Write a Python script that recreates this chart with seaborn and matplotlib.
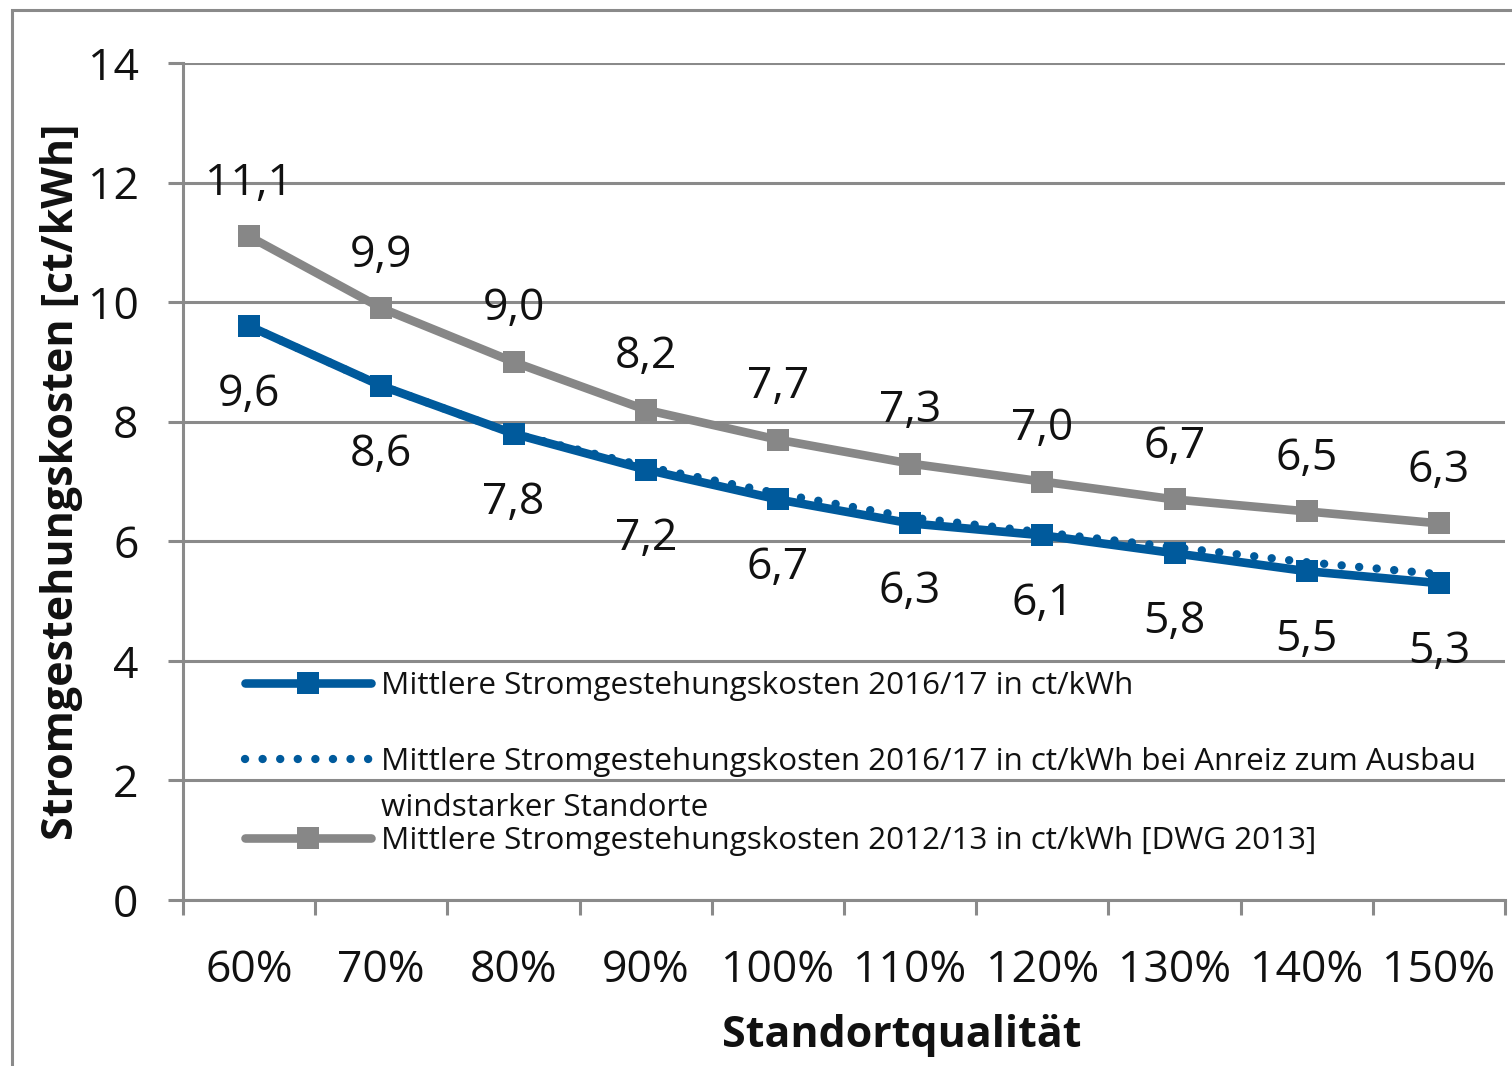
import pandas as pd
import matplotlib.pyplot as plt
import seaborn as sns
from matplotlib.lines import Line2D
from matplotlib.patches import Rectangle

# Chart data
categories = ['60%', '70%', '80%', '90%', '100%', '110%', '120%', '130%', '140%', '150%']
kosten_2016 = [9.6, 8.6, 7.8, 7.2, 6.7, 6.3, 6.1, 5.8, 5.5, 5.3]
kosten_2016_anreiz = [9.6, 8.6, 7.8, 7.25, 6.8, 6.4, 6.15, 5.9, 5.65, 5.45]
kosten_2012 = [11.1, 9.9, 9.0, 8.2, 7.7, 7.3, 7.0, 6.7, 6.5, 6.3]
y_ticks = [0, 2, 4, 6, 8, 10, 12, 14]

label_2016 = 'Mittlere Stromgestehungskosten 2016/17 in ct/kWh'
label_anreiz = 'Mittlere Stromgestehungskosten 2016/17 in ct/kWh bei Anreiz zum Ausbau'
label_anreiz_2 = 'windstarker Standorte'
label_2012 = 'Mittlere Stromgestehungskosten 2012/13 in ct/kWh [DWG 2013]'

BLUE = '#005a9c'
GRAY = '#878787'
AXIS_GRAY = '#8a8a8a'
TEXT = '#111111'

sns.set_theme(style='white')
plt.rcParams['font.family'] = ['Open Sans', 'DejaVu Sans']
plt.rcParams['text.color'] = TEXT
plt.rcParams['axes.labelcolor'] = TEXT
plt.rcParams['xtick.color'] = TEXT
plt.rcParams['ytick.color'] = TEXT

df = pd.DataFrame({
    'Standortqualität': categories,
    'k2016': kosten_2016,
    'anreiz': kosten_2016_anreiz,
    'k2012': kosten_2012,
})

fig = plt.figure(figsize=(15.12, 10.66), dpi=100)
ax = fig.add_axes([183 / 1512, 166 / 1066, 1322 / 1512, 837 / 1066])

sns.lineplot(data=df, x='Standortqualität', y='k2016', ax=ax, color=BLUE, lw=6.2,
             marker='s', markersize=16, markeredgewidth=0, label=label_2016,
             solid_capstyle='round')
sns.lineplot(data=df, x='Standortqualität', y='anreiz', ax=ax, color=BLUE, lw=6,
             linestyle=(0, (0.01, 2.1)), dash_capstyle='round', label=label_anreiz)
sns.lineplot(data=df, x='Standortqualität', y='k2012', ax=ax, color=GRAY, lw=6.2,
             marker='s', markersize=16, markeredgewidth=0, label=label_2012,
             solid_capstyle='round')

# data labels
for i, v in enumerate(kosten_2012):
    ax.annotate(f'{v:.1f}'.replace('.', ','), (i, v), xytext=(0, 38),
                textcoords='offset points', ha='center', va='center', fontsize=32)
for i, v in enumerate(kosten_2016):
    ax.annotate(f'{v:.1f}'.replace('.', ','), (i, v), xytext=(0, -49.5),
                textcoords='offset points', ha='center', va='center', fontsize=32)

ax.set_xlim(-0.5, len(categories) - 0.5)
ax.set_ylim(0, 14)
ax.set_yticks(y_ticks)
ax.set_yticklabels([str(t) for t in y_ticks], fontsize=32)
ax.set_xticks(range(len(categories)))
ax.set_xticklabels(categories, fontsize=32)
ax.set_xticks([i - 0.5 for i in range(len(categories) + 1)], minor=True)

ax.tick_params(axis='x', which='major', length=0, pad=35)
ax.tick_params(axis='x', which='minor', length=11, width=2.2, color=AXIS_GRAY, bottom=True)
ax.tick_params(axis='y', length=11, width=2.2, color=AXIS_GRAY, pad=21, left=True)

ax.yaxis.grid(True, color=AXIS_GRAY, lw=2.2)
ax.xaxis.grid(False)
for side in ['top', 'right']:
    ax.spines[side].set_visible(False)
for side in ['left', 'bottom']:
    ax.spines[side].set_color(AXIS_GRAY)
    ax.spines[side].set_linewidth(2.2)

ax.set_ylabel('Stromgestehungskosten [ct/kWh]', fontsize=31, fontweight='bold')
ax.set_xlabel('Standortqualität', fontsize=31, fontweight='bold')
ax.yaxis.set_label_coords(-0.076, 0.5)
ax.xaxis.set_label_coords(0.544, -0.136)

# legend in two parts so the wrapped label lines up like the original
handles, labels = ax.get_legend_handles_labels()
blank = Line2D([], [], color='none')
leg_kw = dict(frameon=False, fontsize=22.6, handlelength=4.0, handletextpad=0.32,
              borderpad=0, borderaxespad=0, numpoints=1, loc='upper left')
leg1 = ax.legend([handles[0], handles[1]], [label_2016, label_anreiz],
                 bbox_to_anchor=(0.047, 0.274), labelspacing=1.48, **leg_kw)
ax.add_artist(leg1)
ax.legend([blank, handles[2]], [label_anreiz_2, label_2012],
          bbox_to_anchor=(0.047, 0.128), labelspacing=0.11, **leg_kw)

# outer chart frame
fig.add_artist(Rectangle((12 / 1512, -0.05), 1.1, 1056 / 1066 + 0.05, fill=False,
                         edgecolor=AXIS_GRAY, lw=2.2, transform=fig.transFigure))

fig.savefig('out.png', dpi=100)
